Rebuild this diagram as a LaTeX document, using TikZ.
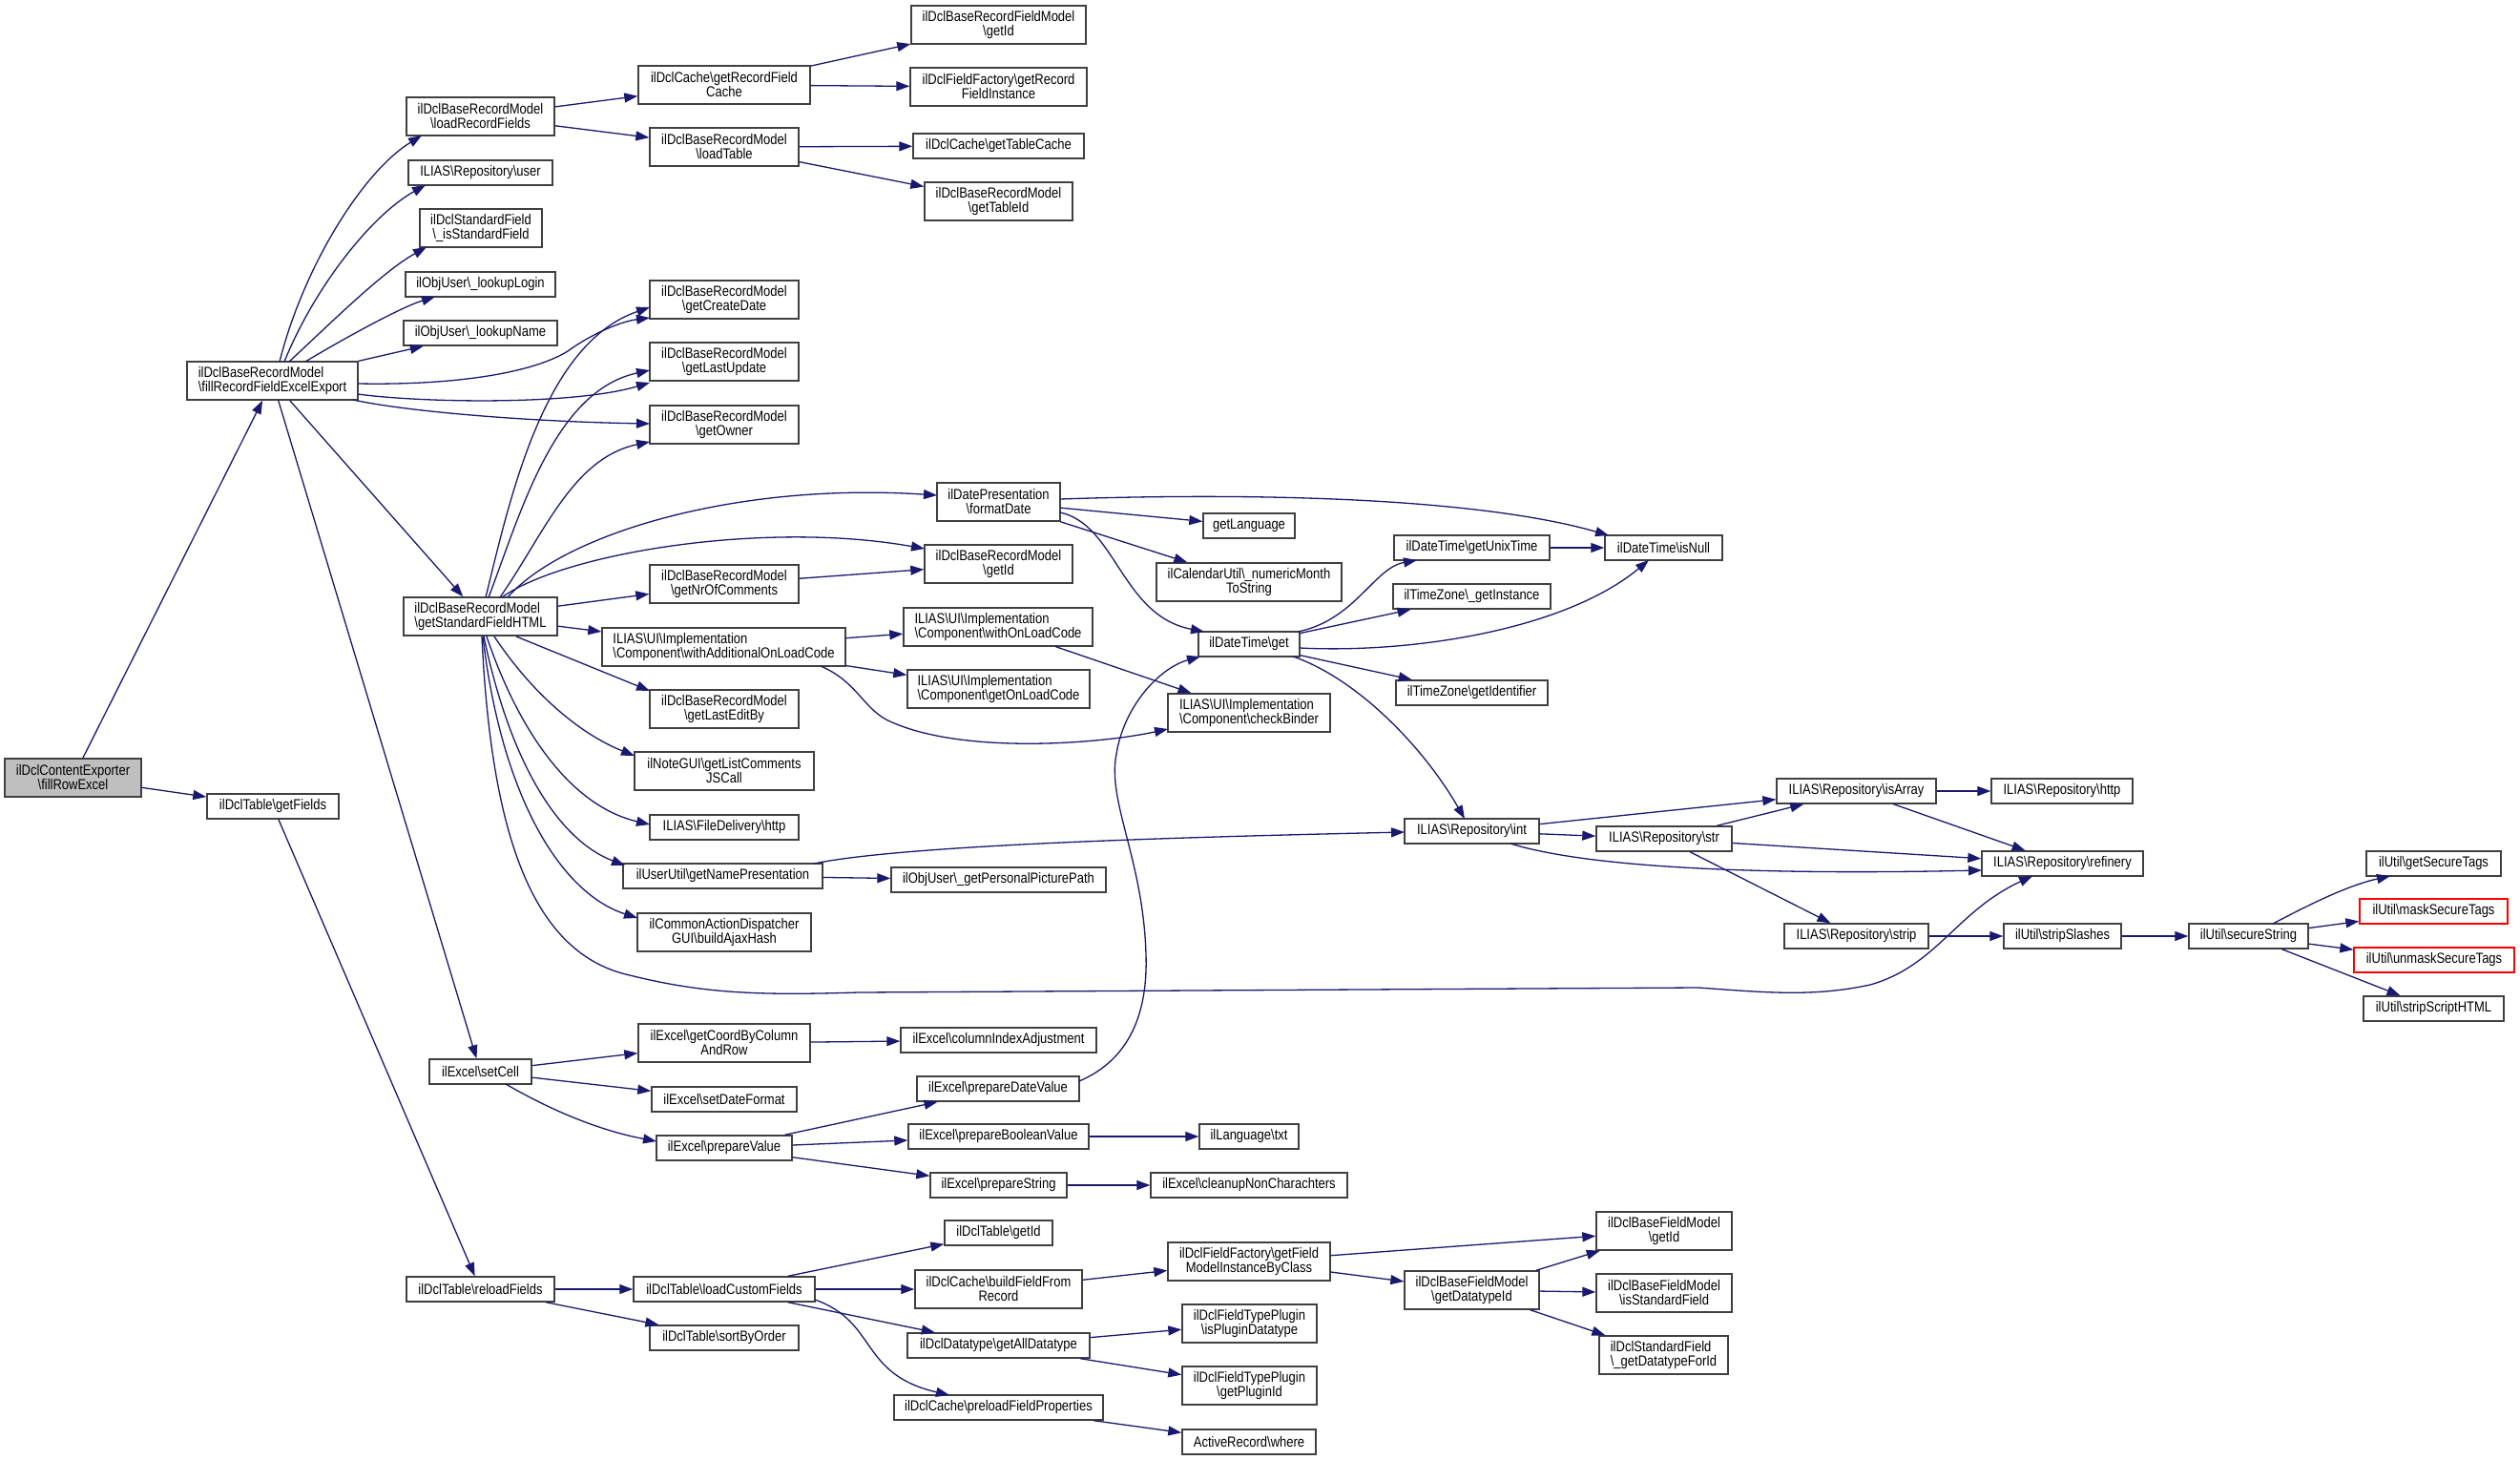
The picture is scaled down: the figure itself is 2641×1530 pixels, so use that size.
\documentclass[tikz,border=0pt]{standalone}
\usepackage{fontspec}
\setmainfont{Liberation Sans}[FakeStretch=0.85]
\usetikzlibrary{arrows.meta}
\definecolor{edgeblue}{HTML}{191970}
\definecolor{rootgray}{HTML}{BFBFBF}
\definecolor{boxline}{HTML}{404040}
\newcommand{\Bsl}{\textbackslash}
\newcommand{\gnode}[7][]{\node[fnbox,minimum width={(#5-#3)*1pt},minimum height={(#6-#4)*1pt},#1] (#2) at ({(#3+#5)/2},{(#4+#6)/2}) {#7};}
\tikzset{
  fnbox/.style={draw=boxline, line width=1.4pt, fill=white, inner sep=0pt, align=center, font=\fontsize{15.3}{15}\selectfont},
  lbox/.style={align=left},
  redbox/.style={draw=red},
  rootbox/.style={fill=rootgray},
  conn/.style={draw=edgeblue, line width=1.3pt, -{Triangle[length=14pt,width=10pt]}},
}
\begin{document}
\begin{tikzpicture}[x=1pt,y=-1pt]
\useasboundingbox (0,0) rectangle (2641,1530);
% column 1-2
\gnode[rootbox]{fre}{5}{795}{148}{835}{ilDclContentExporter\\\Bsl fillRowExcel}
\gnode[lbox]{frfe}{196}{379}{375}{419}{ilDclBaseRecordModel\\\Bsl fillRecordFieldExcelExport}
\gnode{gf}{217}{832}{355}{858}{ilDclTable\Bsl getFields}
\gnode{lrf}{426}{102}{581}{142}{ilDclBaseRecordModel\\\Bsl loadRecordFields}
\gnode{rusr}{428}{168}{579}{194}{ILIAS\Bsl Repository\Bsl user}
\gnode{isf}{440}{219}{568}{259}{ilDclStandardField\\\Bsl\_isStandardField}
\gnode{llog}{425}{285}{582}{311}{ilObjUser\Bsl\_lookupLogin}
\gnode{lnam}{423}{336}{584}{362}{ilObjUser\Bsl\_lookupName}
\gnode[lbox]{gsfh}{423}{626}{584}{666}{ilDclBaseRecordModel\\\Bsl getStandardFieldHTML}
\gnode{setcell}{450}{1110}{557}{1136}{ilExcel\Bsl setCell}
\gnode{rlf}{426}{1338}{581}{1364}{ilDclTable\Bsl reloadFields}
% column 3
\gnode{grfc}{669}{69}{849}{109}{ilDclCache\Bsl getRecordField\\Cache}
\gnode{ltab}{681}{134}{837}{174}{ilDclBaseRecordModel\\\Bsl loadTable}
\gnode{gcd}{681}{294}{837}{334}{ilDclBaseRecordModel\\\Bsl getCreateDate}
\gnode{glu}{681}{359}{837}{399}{ilDclBaseRecordModel\\\Bsl getLastUpdate}
\gnode{gown}{681}{425}{837}{465}{ilDclBaseRecordModel\\\Bsl getOwner}
\gnode{gnoc}{681}{592}{837}{632}{ilDclBaseRecordModel\\\Bsl getNrOfComments}
\gnode[lbox]{wao}{631}{658}{886}{698}{ILIAS\Bsl UI\Bsl Implementation\\\Bsl Component\Bsl withAdditionalOnLoadCode}
\gnode{gleb}{681}{723}{837}{763}{ilDclBaseRecordModel\\\Bsl getLastEditBy}
\gnode{ngui}{665}{788}{853}{828}{ilNoteGUI\Bsl getListComments\\JSCall}
\gnode{fdh}{681}{854}{837}{880}{ILIAS\Bsl FileDelivery\Bsl http}
\gnode{unp}{653}{905}{862}{931}{ilUserUtil\Bsl getNamePresentation}
\gnode{cad}{668}{957}{850}{997}{ilCommonActionDispatcher\\GUI\Bsl buildAjaxHash}
\gnode{gcr}{669}{1073}{849}{1113}{ilExcel\Bsl getCoordByColumn\\AndRow}
\gnode{sdf}{683}{1139}{835}{1165}{ilExcel\Bsl setDateFormat}
\gnode{pv}{688}{1190}{830}{1216}{ilExcel\Bsl prepareValue}
\gnode{lcf}{664}{1338}{854}{1364}{ilDclTable\Bsl loadCustomFields}
\gnode{sbo}{681}{1389}{837}{1415}{ilDclTable\Bsl sortByOrder}
% column 4
\gnode{rfid}{955}{6}{1138}{46}{ilDclBaseRecordFieldModel\\\Bsl getId}
\gnode{rfi}{954}{71}{1139}{111}{ilDclFieldFactory\Bsl getRecord\\FieldInstance}
\gnode{gtc}{957}{140}{1136}{166}{ilDclCache\Bsl getTableCache}
\gnode{gtid}{969}{191}{1124}{231}{ilDclBaseRecordModel\\\Bsl getTableId}
\gnode{fd}{982}{506}{1111}{546}{ilDatePresentation\\\Bsl formatDate}
\gnode{rmid}{969}{571}{1124}{611}{ilDclBaseRecordModel\\\Bsl getId}
\gnode[lbox]{wolc}{947}{637}{1145}{677}{ILIAS\Bsl UI\Bsl Implementation\\\Bsl Component\Bsl withOnLoadCode}
\gnode[lbox]{golc}{951}{702}{1142}{742}{ILIAS\Bsl UI\Bsl Implementation\\\Bsl Component\Bsl getOnLoadCode}
\gnode{gpp}{934}{909}{1159}{935}{ilObjUser\Bsl\_getPersonalPicturePath}
\gnode{cia}{944}{1077}{1149}{1103}{ilExcel\Bsl columnIndexAdjustment}
\gnode{pdv}{961}{1128}{1131}{1154}{ilExcel\Bsl prepareDateValue}
\gnode{pbv}{952}{1178}{1141}{1204}{ilExcel\Bsl prepareBooleanValue}
\gnode{pstr}{975}{1229}{1118}{1255}{ilExcel\Bsl prepareString}
\gnode{tgid}{990}{1279}{1103}{1305}{ilDclTable\Bsl getId}
\gnode{bffr}{959}{1331}{1134}{1371}{ilDclCache\Bsl buildFieldFrom\\Record}
\gnode{gad}{951}{1397}{1142}{1423}{ilDclDatatype\Bsl getAllDatatype}
\gnode{pfp}{937}{1462}{1156}{1488}{ilDclCache\Bsl preloadFieldProperties}
% column 5
\gnode{glang}{1261}{538}{1357}{564}{getLanguage}
\gnode{cal}{1212}{590}{1406}{630}{ilCalendarUtil\Bsl\_numericMonth\\ToString}
\gnode{dtg}{1256}{662}{1362}{688}{ilDateTime\Bsl get}
\gnode[lbox]{cb}{1224}{727}{1394}{767}{ILIAS\Bsl UI\Bsl Implementation\\\Bsl Component\Bsl checkBinder}
\gnode{ltxt}{1257}{1178}{1361}{1204}{ilLanguage\Bsl txt}
\gnode{cnc}{1206}{1229}{1412}{1255}{ilExcel\Bsl cleanupNonCharachters}
\gnode{fmc}{1224}{1302}{1394}{1342}{ilDclFieldFactory\Bsl getField\\ModelInstanceByClass}
\gnode{ipd}{1239}{1367}{1380}{1407}{ilDclFieldTypePlugin\\\Bsl isPluginDatatype}
\gnode{gpid}{1239}{1432}{1380}{1472}{ilDclFieldTypePlugin\\\Bsl getPluginId}
\gnode{arw}{1239}{1498}{1379}{1524}{ActiveRecord\Bsl where}
% column 6
\gnode{gut}{1461}{561}{1624}{587}{ilDateTime\Bsl getUnixTime}
\gnode{tzi}{1460}{612}{1625}{638}{ilTimeZone\Bsl\_getInstance}
\gnode{tzid}{1463}{713}{1622}{739}{ilTimeZone\Bsl getIdentifier}
\gnode{rint}{1472}{858}{1613}{884}{ILIAS\Bsl Repository\Bsl int}
\gnode{gdt}{1472}{1332}{1613}{1372}{ilDclBaseFieldModel\\\Bsl getDatatypeId}
% column 7
\gnode{isnull}{1682}{561}{1805}{587}{ilDateTime\Bsl isNull}
\gnode{rstr}{1673}{866}{1815}{892}{ILIAS\Bsl Repository\Bsl str}
\gnode{bfid}{1673}{1270}{1815}{1310}{ilDclBaseFieldModel\\\Bsl getId}
\gnode{bisf}{1673}{1335}{1815}{1375}{ilDclBaseFieldModel\\\Bsl isStandardField}
\gnode[lbox]{sgdt}{1676}{1400}{1811}{1440}{ilDclStandardField\\\Bsl\_getDatatypeForId}
% columns 8-11
\gnode{risa}{1862}{816}{2029}{842}{ILIAS\Bsl Repository\Bsl isArray}
\gnode{rstrip}{1870}{968}{2021}{994}{ILIAS\Bsl Repository\Bsl strip}
\gnode{rhttp}{2087}{816}{2235}{842}{ILIAS\Bsl Repository\Bsl http}
\gnode{rref}{2077}{892}{2246}{918}{ILIAS\Bsl Repository\Bsl refinery}
\gnode{ssl}{2100}{968}{2223}{994}{ilUtil\Bsl stripSlashes}
\gnode{ss}{2294}{968}{2419}{994}{ilUtil\Bsl secureString}
\gnode{gst}{2480}{892}{2621}{918}{ilUtil\Bsl getSecureTags}
\gnode[redbox]{mst}{2473}{942}{2628}{968}{ilUtil\Bsl maskSecureTags}
\gnode[redbox]{ust}{2467}{993}{2635}{1019}{ilUtil\Bsl unmaskSecureTags}
\gnode{ssh}{2477}{1044}{2624}{1070}{ilUtil\Bsl stripScriptHTML}

% ---------- straight connectors
\draw[conn] (fre) -- (frfe);
\draw[conn] (fre) -- (gf);
\draw[conn] (frfe) -- (lnam);
\draw[conn] (frfe) -- (gsfh);
\draw[conn] (frfe) -- (setcell);
\draw[conn] (gf) -- (rlf);
\draw[conn] (lrf) -- (grfc);
\draw[conn] (lrf) -- (ltab);
\draw[conn] (grfc) -- (rfid);
\draw[conn] (grfc) -- (rfi);
\draw[conn] (ltab) -- (gtc);
\draw[conn] (ltab) -- (gtid);
\draw[conn] (gsfh) -- (gnoc);
\draw[conn] (gsfh) -- (wao);
\draw[conn] ([shift={(37.5,21)}]gsfh.center) -- ([shift={(-78,-19)}]gleb.center);
\draw[conn] (fd) -- (glang);
\draw[conn] (fd) -- (cal);
\draw[conn] (gnoc) -- (rmid);
\draw[conn] (wao) -- (wolc);
\draw[conn] (wao) -- (golc);
\draw[conn] (wolc) -- (cb);
\draw[conn] (unp) -- (gpp);
\draw[conn] (dtg) -- (tzi);
\draw[conn] (dtg) -- (tzid);
\draw[conn] (gut) -- (isnull);
\draw[conn] (rint) -- (risa);
\draw[conn] (rint) -- (rstr);
\draw[conn] (rstr) -- (risa);
\draw[conn] (rstr) -- (rref);
\draw[conn] (rstr) -- (rstrip);
\draw[conn] (risa) -- (rhttp);
\draw[conn] (risa) -- (rref);
\draw[conn] (rstrip) -- (ssl);
\draw[conn] (ssl) -- (ss);
\draw[conn] (ss) -- (mst);
\draw[conn] (ss) -- (ust);
\draw[conn] (ss) -- (ssh);
\draw[conn] (setcell) -- (gcr);
\draw[conn] (setcell) -- (sdf);
\draw[conn] (gcr) -- (cia);
\draw[conn] (pv) -- (pdv);
\draw[conn] (pv) -- (pbv);
\draw[conn] (pv) -- (pstr);
\draw[conn] (pbv) -- (ltxt);
\draw[conn] (pstr) -- (cnc);
\draw[conn] (rlf) -- (lcf);
\draw[conn] (rlf) -- (sbo);
\draw[conn] (lcf) -- (tgid);
\draw[conn] (lcf) -- (bffr);
\draw[conn] (lcf) -- (gad);
\draw[conn] (bffr) -- (fmc);
\draw[conn] (fmc) -- (bfid);
\draw[conn] (fmc) -- (gdt);
\draw[conn] (gdt) -- (bfid);
\draw[conn] (gdt) -- (bisf);
\draw[conn] (gdt) -- (sgdt);
\draw[conn] (gad) -- (ipd);
\draw[conn] (gad) -- (gpid);
\draw[conn] (pfp) -- (arw);

% ---------- curved connectors from fillRecordFieldExcelExport
\draw[conn] ([shift={(7.5,-20)}]frfe.center) .. controls (318,280) and (380,180) .. ([shift={(-61.5,20)}]lrf.center);
\draw[conn] ([shift={(12.5,-20)}]frfe.center) .. controls (330,300) and (390,225) .. ([shift={(-57.5,13)}]rusr.center);
\draw[conn] ([shift={(17.5,-20)}]frfe.center) .. controls (340,345) and (400,285) .. ([shift={(-57,20)}]isf.center);
\draw[conn] ([shift={(34.5,-20)}]frfe.center) .. controls (360,355) and (420,322) .. ([shift={(-47.5,13)}]llog.center);
\draw[conn] ([shift={(89.5,3)}]frfe.center) .. controls (480,404) and (560,390) .. (595,368) .. controls (620,350) and (650,337) .. ([shift={(-78,19)}]gcd.center);
\draw[conn] ([shift={(89.5,14)}]frfe.center) .. controls (440,422) and (600,425) .. ([shift={(-78,22)}]glu.center);
\draw[conn] ([shift={(84.5,20)}]frfe.center) .. controls (430,432) and (560,442) .. ([shift={(-78,-1)}]gown.center);

% ---------- curved connectors from getStandardFieldHTML
\draw[conn] ([shift={(5.5,-20)}]gsfh.center) .. controls (535,520) and (570,360) .. ([shift={(-78,8)}]gcd.center);
\draw[conn] ([shift={(8.5,-20)}]gsfh.center) .. controls (545,540) and (580,410) .. ([shift={(-78,9)}]glu.center);
\draw[conn] ([shift={(20.5,-20)}]gsfh.center) .. controls (570,560) and (600,480) .. ([shift={(-78,18)}]gown.center);
\draw[conn] ([shift={(28.5,-20)}]gsfh.center) .. controls (590,560) and (770,505) .. ([shift={(-64.5,-7)}]fd.center);
\draw[conn] ([shift={(22.5,-20)}]gsfh.center) .. controls (590,580) and (800,545) .. ([shift={(-77.5,-16)}]rmid.center);
\draw[conn] ([shift={(14.5,21)}]gsfh.center) .. controls (560,730) and (610,770) .. ([shift={(-94,-16)}]ngui.center);
\draw[conn] ([shift={(6.5,21)}]gsfh.center) .. controls (545,770) and (600,845) .. ([shift={(-78,-3)}]fdh.center);
\draw[conn] ([shift={(3.5,21)}]gsfh.center) .. controls (535,800) and (585,880) .. ([shift={(-102.5,-11)}]unp.center);
\draw[conn] ([shift={(2.5,21)}]gsfh.center) .. controls (525,830) and (585,935) .. ([shift={(-91,-15)}]cad.center);
\draw[conn] ([shift={(1.5,21)}]gsfh.center) .. controls (515,880) and (560,1000) .. (660,1022)
   .. controls (740,1042) and (800,1043) .. (900,1040) -- (1780,1035)
   .. controls (1850,1040) and (1900,1045) .. (1960,1032)
   .. controls (2030,1012) and (2050,955) .. ([shift={(-31.5,13)}]rref.center);

% ---------- other curves
\draw[conn] ([shift={(64.5,-3)}]fd.center) .. controls (1350,515) and (1560,525) .. ([shift={(-57.5,-13)}]isnull.center);
\draw[conn] ([shift={(64.5,11)}]fd.center) .. controls (1170,550) and (1175,645) .. ([shift={(-47,-13)}]dtg.center);
\draw[conn] ([shift={(101.5,20)}]wao.center) .. controls (900,715) and (905,745) .. (935,757) .. controls (1010,790) and (1150,780) .. ([shift={(-85,17)}]cb.center);
\draw[conn] ([shift={(95.5,-13)}]unp.center) .. controls (950,885) and (1250,877) .. ([shift={(-70.5,1)}]rint.center);
\draw[conn] ([shift={(51,-13)}]dtg.center) .. controls (1420,650) and (1440,595) .. ([shift={(-57.5,13)}]gut.center);
\draw[conn] ([shift={(53,4)}]dtg.center) .. controls (1480,685) and (1640,660) .. ([shift={(-15.5,13)}]isnull.center);
\draw[conn] ([shift={(46,13)}]dtg.center) .. controls (1420,710) and (1490,780) .. ([shift={(-7.5,-13)}]rint.center);
\draw[conn] ([shift={(40.5,13)}]rint.center) .. controls (1650,905) and (1800,918) .. ([shift={(-84.5,7)}]rref.center);
\draw[conn] ([shift={(25.5,-13)}]ss.center) .. controls (2420,948) and (2460,928) .. ([shift={(-45.5,13)}]gst.center);
\draw[conn] ([shift={(26.5,13)}]setcell.center) .. controls (580,1165) and (630,1185) .. ([shift={(-71,-7)}]pv.center);
\draw[conn] ([shift={(85,-8)}]pdv.center) .. controls (1185,1110) and (1203,1060) .. (1201,1000)
   .. controls (1198,900) and (1160,840) .. (1170,790)
   .. controls (1178,740) and (1215,700) .. ([shift={(-51,13)}]dtg.center);
\draw[conn] ([shift={(95,11)}]lcf.center) .. controls (920,1385) and (900,1440) .. ([shift={(-51.5,-13)}]pfp.center);
\end{tikzpicture}
\end{document}
